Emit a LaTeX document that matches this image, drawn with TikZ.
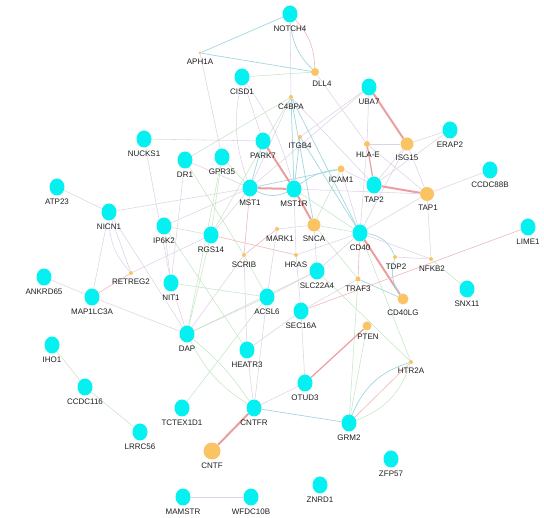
\documentclass[tikz,border=0pt]{standalone}
\usepackage{fontspec}
\setmainfont{Liberation Sans}
\usetikzlibrary{shapes.geometric,backgrounds}
\definecolor{cyc}{RGB}{5,240,240}
\definecolor{orc}{RGB}{250,195,100}
\definecolor{cla}{RGB}{222,210,230}
\definecolor{cpk}{RGB}{240,188,188}
\definecolor{cred}{RGB}{234,158,158}
\definecolor{cgr}{RGB}{196,230,196}
\definecolor{cbl}{RGB}{165,216,226}
\definecolor{ctx}{RGB}{30,30,30}
\tikzset{
  cynode/.style={ellipse,fill=cyc,inner sep=0pt,minimum width=15pt,minimum height=17pt},
  ornode/.style={circle,fill=orc,inner sep=0pt},
  lab/.style={font=\fontsize{8}{9}\selectfont,text=ctx,inner sep=0pt},
  ela/.style={draw=cla,line width=0.55pt},
  epk/.style={draw=cpk,line width=0.65pt},
  emd/.style={draw=cred,line width=1.2pt},
  ered/.style={draw=cred,line width=2pt},
  egr/.style={draw=cgr,line width=0.55pt},
  ebl/.style={draw=cbl,line width=0.75pt}
}
\newcommand\cyn[4]{\node[cynode] (#1) at (#2,#3) {}; \node[lab] (#1l) at (#2,#3+15) {#4};}
\newcommand\orn[7]{\node[ornode,minimum size=#4pt] (#1) at (#2,#3) {}; \node[lab] (#1l) at (#5,#6) {#7};}
\begin{document}
\begin{tikzpicture}[x=1pt,y=-1pt]
\useasboundingbox (0,0) rectangle (544,518);
% nodes
\cyn{NOTCH}{290}{14}{NOTCH4}
\orn{APH}{200}{53}{3}{200}{62}{APH1A}
\orn{DLL}{315}{72}{8}{322}{84}{DLL4}
\cyn{CISD}{242}{77}{CISD1}
\orn{CBPA}{291}{97}{4}{291}{107}{C4BPA}
\cyn{UBA}{369}{87}{UBA7}
\cyn{NUCKS}{144}{139}{NUCKS1}
\cyn{DR}{185}{160}{DR1}
\cyn{GPR}{222}{157}{GPR35}
\cyn{PARK}{263}{141}{PARK7}
\orn{ITGB}{300}{137}{4}{300}{146}{ITGB4}
\orn{HLAE}{367}{144}{6}{368}{155}{HLA-E}
\orn{ISG}{407}{144}{13}{407}{158}{ISG15}
\cyn{ERAP}{450}{130}{ERAP2}
\cyn{CCDC}{490}{170}{CCDC88B}
\orn{ICAM}{341}{169}{7}{341}{180}{ICAM1}
\cyn{TAPB}{374}{185}{TAP2}
\orn{TAPA}{427}{194}{14}{428}{208}{TAP1}
\cyn{MSTA}{250}{188}{MST1}
\cyn{MSTR}{294}{189}{MST1R}
\cyn{ATP}{57}{187}{ATP23}
\cyn{NICN}{109}{212}{NICN1}
\cyn{IPK}{164}{226}{IP6K2}
\cyn{RGS}{211}{235}{RGS14}
\orn{SNCA}{314}{225}{13}{314}{239}{SNCA}
\cyn{CDF}{360}{233}{CD40}
\orn{MARK}{277}{229}{4}{280}{239}{MARK1}
\orn{SCRIB}{244}{255}{4}{244}{265}{SCRIB}
\orn{HRAS}{296}{255}{4}{296}{265}{HRAS}
\orn{TDP}{395}{257}{4}{396}{267}{TDP2}
\orn{NFKB}{431}{259}{4}{432}{269}{NFKB2}
\cyn{LIME}{528}{227}{LIME1}
\cyn{SLC}{317}{271}{SLC22A4}
\orn{TRAF}{358}{279}{5}{358}{289}{TRAF3}
\orn{RET}{131}{273}{4}{131}{282}{RETREG2}
\cyn{ANK}{44}{277}{ANKRD65}
\cyn{MAP}{92}{297}{MAP1LC3A}
\cyn{NIT}{171}{283}{NIT1}
\cyn{ACSL}{267}{297}{ACSL6}
\cyn{SNX}{467}{289}{SNX11}
\orn{CDFLG}{403}{299}{11}{403}{313}{CD40LG}
\cyn{SEC}{301}{311}{SEC16A}
\orn{PTEN}{367}{326}{9}{368}{337}{PTEN}
\cyn{DAP}{187}{334}{DAP}
\cyn{HEAT}{247}{350}{HEATR3}
\orn{HTR}{411}{362}{4}{411}{371}{HTR2A}
\cyn{IHO}{52}{345}{IHO1}
\cyn{CCDCA}{85}{387}{CCDC116}
\cyn{OTUD}{305}{383}{OTUD3}
\cyn{TCT}{182}{408}{TCTEX1D1}
\cyn{CNTFR}{254}{408}{CNTFR}
\cyn{GRM}{349}{423}{GRM2}
\cyn{LRRC}{140}{432}{LRRC56}
\orn{CNTF}{212}{451}{17}{212}{466}{CNTF}
\cyn{ZFP}{391}{459}{ZFP57}
\cyn{ZNRD}{320}{485}{ZNRD1}
\cyn{MAM}{183}{497}{MAMSTR}
\cyn{WFDC}{251}{497}{WFDC10B}
% edges
\begin{scope}[on background layer]
\draw[ebl] (NOTCH) -- (APH);
\draw[ebl] (NOTCH) to[bend right=20] (DLL);
\draw[epk] (NOTCH) to[bend left=20] (DLL);
\draw[ela] (NOTCH) -- (CBPA);
\draw[ebl] (APH) -- (DLL);
\draw[ela] (APH) -- (GPR);
\draw[egr] (CISD) -- (DLL);
\draw[ela] (DLL) -- (HLAE);
\draw[ela] (CISD) to[bend right=15] (MSTA);
\draw[ela] (CISD) to[bend left=10] (MSTR);
\draw[ela] (CISD) -- (PARK);
\draw[egr] (CBPA) -- (DR);
\draw[ebl] (CBPA) -- (MSTR);
\draw[ebl] (CBPA) -- (CDF);
\draw[ebl] (CBPA) -- (SNCA);
\draw[ela] (CBPA) -- (TAPB);
\draw[ela] (CBPA) -- (MSTA);
\draw[egr] (CBPA) -- (RGS);
\draw[ered] (UBA) -- (ISG);
\draw[ela] (UBA) -- (HLAE);
\draw[ela] (UBA) -- (MSTA);
\draw[ela] (UBA) -- (ITGB);
\draw[ela] (HLAE) -- (ISG);
\draw[emd] (HLAE) -- (TAPB);
\draw[ela] (HLAE) -- (TAPA);
\draw[ela] (HLAE) -- (CDF);
\draw[ela] (ISG) -- (ERAP);
\draw[ela] (ISG) -- (TAPA);
\draw[ela] (ISG) -- (TAPB);
\draw[ela] (ISG) -- (CDF);
\draw[ela] (ERAP) -- (TAPB);
\draw[ela] (CCDC) -- (TAPA);
\draw[ered] (TAPB) -- (TAPA);
\draw[ela] (TAPA) -- (CDF);
\draw[ela] (TAPA) -- (NFKB);
\draw[ela] (TAPA) -- (MSTR);
\draw[ebl] (ICAM) to[bend right=15] (MSTR);
\draw[ebl] (ICAM) -- (MSTA);
\draw[ela] (ICAM) -- (CDF);
\draw[ela] (ICAM) -- (TAPB);
\draw[egr] (ICAM) -- (SNCA);
\draw[ebl] (ITGB) -- (MSTR);
\draw[ebl] (ITGB) -- (CDF);
\draw[ered] (PARK) -- (MSTR);
\draw[ebl] (PARK) -- (MSTA);
\draw[ered] (MSTA) -- (MSTR);
\draw[ebl] (MSTA) to[bend right=25] (MSTR);
\draw[ered] (MSTR) -- (SNCA);
\draw[epk] (MSTA) -- (SCRIB);
\draw[ela] (MSTA) -- (NICN);
\draw[ela] (MSTA) -- (IPK);
\draw[egr] (MSTA) -- (GPR);
\draw[ela] (MSTA) -- (DR);
\draw[ela] (MSTA) -- (RGS);
\draw[egr] (MSTR) -- (CDF);
\draw[ela] (MSTR) -- (HRAS);
\draw[egr] (SNCA) -- (CDF);
\draw[ela] (SNCA) -- (SLC);
\draw[ela] (SNCA) -- (MARK);
\draw[egr] (SNCA) -- (TRAF);
\draw[epk] (MARK) -- (SCRIB);
\draw[ela] (MARK) -- (ACSL);
\draw[ela] (SCRIB) -- (DAP);
\draw[egr] (SCRIB) -- (ACSL);
\draw[ela] (SCRIB) -- (HEAT);
\draw[epk] (RGS) -- (HRAS);
\draw[egr] (RGS) -- (DAP);
\draw[egr] (RGS) -- (IPK);
\draw[egr] (RGS) -- (GPR);
\draw[egr] (GPR) -- (DAP);
\draw[egr] (DR) -- (SCRIB);
\draw[ela] (DR) -- (NIT);
\draw[ela] (NUCKS) -- (PARK);
\draw[ela] (NUCKS) -- (NIT);
\draw[ela] (NICN) -- (ATP);
\draw[ela] (NICN) -- (RET);
\draw[ela] (NICN) to[bend right=20] (RET);
\draw[ela] (NICN) -- (MAP);
\draw[ela] (NICN) -- (DAP);
\draw[epk] (RET) -- (MAP);
\draw[ela] (RET) -- (RGS);
\draw[ela] (ANK) -- (MAP);
\draw[ela] (MAP) -- (DAP);
\draw[ela] (IPK) -- (NIT);
\draw[egr] (IPK) -- (HEAT);
\draw[egr] (NIT) -- (ACSL);
\draw[ela] (NIT) -- (DAP);
\draw[ela] (DAP) -- (ACSL);
\draw[egr] (DAP) to[bend right=15] (CNTFR);
\draw[egr] (DAP) to[bend left=8] (CNTFR);
\draw[egr] (DAP) -- (SLC);
\draw[ela] (ACSL) -- (SLC);
\draw[egr] (ACSL) -- (TCT);
\draw[ela] (HRAS) -- (SEC);
\draw[ela] (HRAS) -- (CDF);
\draw[ered] (CDF) -- (CDFLG);
\draw[epk] (CDF) -- (TRAF);
\draw[ebl] (CDF) to[bend left=30] (TDP);
\draw[ebl] (CDFLG) to[bend left=25] (TDP);
\draw[ela] (CDF) -- (NFKB);
\draw[ela] (CDF) -- (SLC);
\draw[egr] (CDF) -- (HTR);
\draw[ebl] (TRAF) -- (CDFLG);
\draw[ela] (TRAF) -- (SEC);
\draw[egr] (TRAF) -- (GRM);
\draw[epk] (SEC) -- (LIME);
\draw[ela] (SEC) -- (HEAT);
\draw[ela] (SEC) -- (OTUD);
\draw[egr] (NFKB) -- (SNX);
\draw[ela] (NFKB) -- (TDP);
\draw[emd] (PTEN) -- (OTUD);
\draw[egr] (PTEN) -- (GRM);
\draw[epk] (HTR) -- (GRM);
\draw[ebl] (HTR) to[bend right=25] (GRM);
\draw[egr] (HTR) to[bend left=25] (GRM);
\draw[egr] (HTR) -- (SLC);
\draw[ela] (HEAT) -- (CNTFR);
\draw[ela] (CNTFR) -- (OTUD);
\draw[ebl] (CNTFR) -- (GRM);
\draw[ered] (CNTFR) -- (CNTF);
\draw[ela] (CNTFR) -- (ACSL);
\draw[egr] (IHO) -- (CCDCA);
\draw[egr] (CCDCA) -- (LRRC);
\draw[ela] (MAM) -- (WFDC);
\end{scope}
\end{tikzpicture}
\end{document}
